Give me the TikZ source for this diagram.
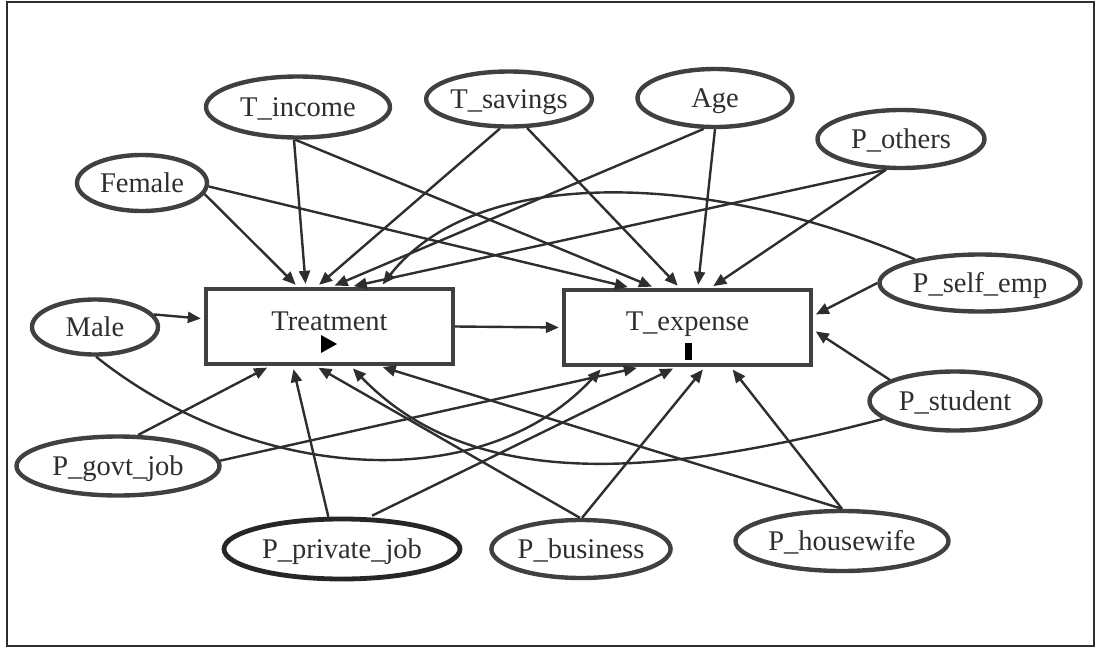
\documentclass[tikz,border=0pt]{standalone}
\usepackage{fontspec}
\setmainfont{Liberation Serif}
\usetikzlibrary{shapes.geometric,arrows.meta}
\definecolor{ink}{HTML}{2E2E2E}
\definecolor{rim}{HTML}{404040}
\begin{document}
\begin{tikzpicture}[x=1pt,y=-1pt,
  var/.style={ellipse, draw=rim, line width=4.4pt, inner sep=0pt, text=ink,
    font=\fontsize{28.5}{30}\selectfont, text height=18.8pt, text depth=0pt},
  box/.style={rectangle, draw=rim, line width=4.4pt, inner sep=0pt,
    minimum width=247pt, minimum height=75pt},
  lab/.style={inner sep=0pt, anchor=base, text=ink, font=\fontsize{28.5}{30}\selectfont},
  arr/.style={draw=ink, line width=2.4pt, -{Triangle[length=13pt,width=11pt]}, shorten >=3pt},
]
\useasboundingbox (0,0) rectangle (1096,648);
\draw[line width=2.5pt, draw=ink] (7,2) rectangle (1094,646);

% boxes
\node[box] (treat) at (329.5,326.5) {};
\node[box] (texp) at (687.5,327.5) {};
\node[lab] (treatlab) at (329.5,330) {Treatment};
\node[lab] (texplab) at (687.5,330) {T\_expense};
\fill[black] (321,335) -- (321,353) -- (337,344) -- cycle;
\fill[black] (685,343) rectangle (692,360);

% variables
\node[var, minimum width=184pt, minimum height=61pt] (tinc) at (298,107) {T\_income};
\node[var, minimum width=130pt, minimum height=56pt] (fem) at (142,183) {Female};
\node[var, minimum width=146pt, minimum height=55pt] (tsav) at (509,99) {T\_savings};
\node[var, minimum width=155pt, minimum height=58pt] (age) at (715,98) {Age};
\node[var, minimum width=167pt, minimum height=58pt] (poth) at (901,139) {P\_others};
\node[var, minimum width=201pt, minimum height=57pt] (pself) at (980,283) {P\_self\_emp};
\node[var, minimum width=126pt, minimum height=55pt] (male) at (95,327) {Male};
\node[var, minimum width=171pt, minimum height=59pt] (pstu) at (955,401) {P\_student};
\node[var, minimum width=203pt, minimum height=59pt] (pgov) at (118,466) {P\_govt\_job};
\node[var, draw=black!85, line width=4.8pt, minimum width=236pt, minimum height=60pt] (ppriv) at (342,549) {P\_private\_job};
\node[var, minimum width=179pt, minimum height=58pt] (pbus) at (581,549) {P\_business};
\node[var, minimum width=213pt, minimum height=60pt] (phw) at (842,541) {P\_housewife};

% edges into Treatment / T_expense from the top
\draw[arr] (fem.-10) -- ([xshift=94pt]treat.north west);
\draw[arr] (fem.-3) -- ([xshift=69pt]texp.north west);
\draw[arr] (tinc.-97) -- ([xshift=102pt]treat.north west);
\draw[arr] (tinc.-95) -- ([xshift=93pt]texp.north west);
\draw[arr] (tsav.-107) -- ([xshift=113pt]treat.north west);
\draw[arr] (tsav.-58) -- ([xshift=118pt]texp.north west);
\draw[arr] (age.-110) -- ([xshift=128pt]treat.north west);
\draw[arr] (age.-90) -- ([xshift=136pt]texp.north west);
\draw[arr] (poth.-116) -- ([xshift=147pt]treat.north west);
\draw[arr] (poth.-116) -- ([xshift=149pt]texp.north west);
\draw[arr] (pself.160) .. controls (720,175) and (480,160) .. ([xshift=177pt]treat.north west);
\draw[arr] (pself.180) -- ([yshift=-28pt]texp.north east);
\draw[arr] (pstu.162) -- ([yshift=-42pt]texp.north east);
\draw[arr] (male.12) -- ([yshift=-32pt]treat.north west);
\draw[arr] (treat.east) -- (texp.west);

% edges from below
\draw[arr] (pstu.-166) .. controls (650,480) and (470,490) .. ([xshift=147pt]treat.south west);
\draw[arr] (male.-88) .. controls (250,480) and (480,500) .. ([xshift=41pt]texp.south west);
\draw[arr] (pgov.57) -- ([xshift=66pt]treat.south west);
\draw[arr] (pgov.3) -- ([xshift=78pt]texp.south west);
\draw[arr] (ppriv.113) -- ([xshift=89pt]treat.south west);
\draw[arr, shorten <=4pt] (ppriv.50) -- ([xshift=114pt]texp.south west);
\draw[arr] (pbus.92) -- ([xshift=112pt]treat.south west);
\draw[arr] (pbus.88) -- ([xshift=143pt]texp.south west);
\draw[arr] (phw.north) -- ([xshift=176pt]treat.south west);
\draw[arr] (phw.north) -- ([xshift=169pt]texp.south west);
\end{tikzpicture}
\end{document}
